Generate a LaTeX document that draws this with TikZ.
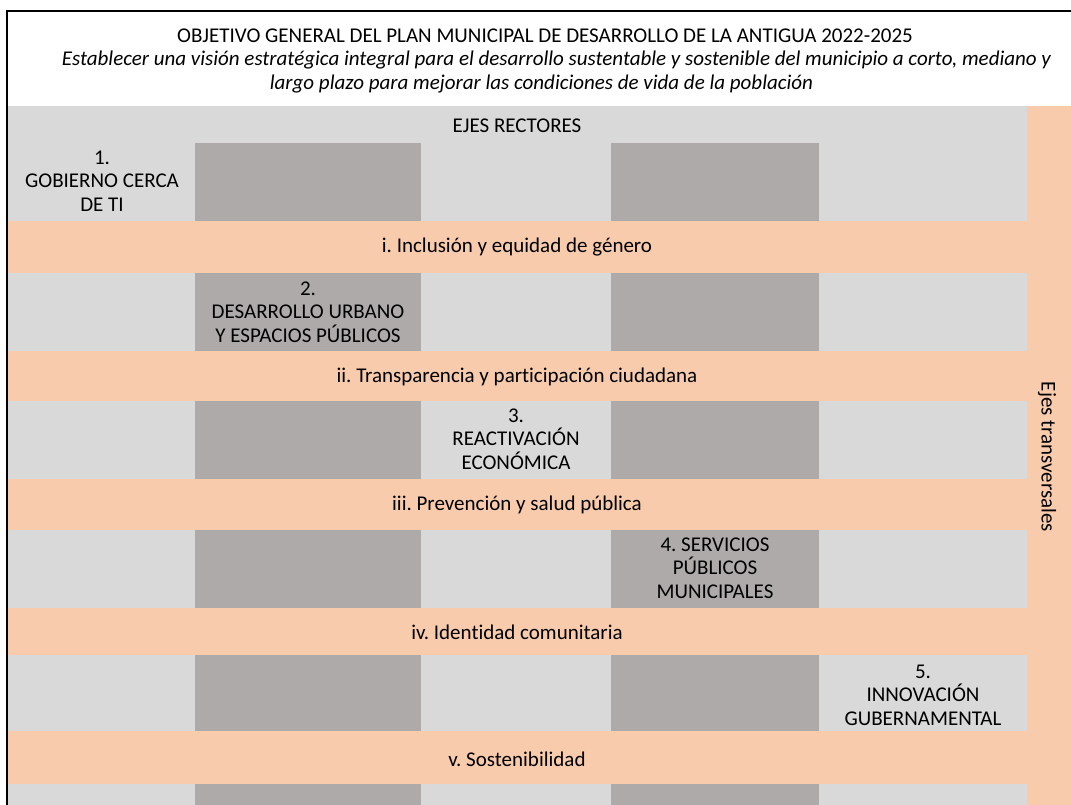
\documentclass[tikz,border=0pt]{standalone}
\usepackage{fontspec}
\setmainfont{Carlito}[Ligatures={NoCommon,NoRare}]
\frenchspacing
\definecolor{lg}{HTML}{D9D9D9}
\definecolor{dg}{HTML}{AEAAAA}
\definecolor{og}{HTML}{F8CBAD}
\tikzset{
  txt/.style={inner sep=0pt, align=center, font=\fontsize{21}{23.5}\selectfont, text=black},
  itxt/.style={txt, font=\fontsize{21}{23.5}\selectfont\itshape},
  darkcell/.style={fill=dg},
  stripe/.style={fill=og}
}
\begin{document}
\begin{tikzpicture}[x=1pt,y=-1pt]
\useasboundingbox (0,0) rectangle (1071,805);
\fill[white] (0,0) rectangle (1071,805);
% light gray body
\fill[lg] (8,106) rectangle (1027,805);
% orange vertical column
\fill[og] (1027,106) rectangle (1071,805);
% dark cells (columns 2 and 4)
\foreach \t/\b in {143/221, 273/351, 401/479, 530/608, 655/731, 784/805}{
  \fill[darkcell] (195,\t) rectangle (421,\b);
  \fill[darkcell] (611,\t) rectangle (819,\b);
}
% orange stripes
\foreach \t/\b in {221/273, 351/401, 479/530, 608/655, 731/784}{
  \fill[stripe] (8,\t) rectangle (1071,\b);
}
% frame
\draw[line width=2.2pt, line cap=rect] (7,806) -- (7,11) -- (1072,11);
% title
\node[txt] (title) at (545,36) {OBJETIVO GENERAL DEL PLAN MUNICIPAL DE DESARROLLO DE LA ANTIGUA 2022-2025};
\node[itxt] (obj1) at (556.5,60) {Establecer una visión estratégica integral para el desarrollo sustentable y sostenible del municipio a corto, mediano y};
\node[itxt] (obj2) at (541.5,84) {largo plazo para mejorar las condiciones de vida de la población};
% header
\node[txt] (ejes) at (517,126) {EJES RECTORES};
% axes
\node[txt] (e1) at (102,181) {1.\\GOBIERNO CERCA\\DE TI};
\node[txt] (e2) at (308,312) {2.\\DESARROLLO URBANO\\Y ESPACIOS PÚBLICOS};
\node[txt] (e3) at (516,439) {3.\\REACTIVACIÓN\\ECONÓMICA};
\node[txt] (e4) at (715,568) {4. SERVICIOS\\PÚBLICOS\\MUNICIPALES};
\node[txt] (e5) at (923,695) {5.\\INNOVACIÓN\\GUBERNAMENTAL};
% transversal axes
\node[txt] (t1) at (517,247) {i. Inclusión y equidad de género};
\node[txt] (t2) at (517,377) {ii. Transparencia y participación ciudadana};
\node[txt] (t3) at (517,505) {iii. Prevención y salud pública};
\node[txt] (t4) at (517,632) {iv. Identidad comunitaria};
\node[txt] (t5) at (517,759) {v. Sostenibilidad};
\node[txt, rotate=-90] (tv) at (1047,457) {Ejes transversales};
\end{tikzpicture}
\end{document}
